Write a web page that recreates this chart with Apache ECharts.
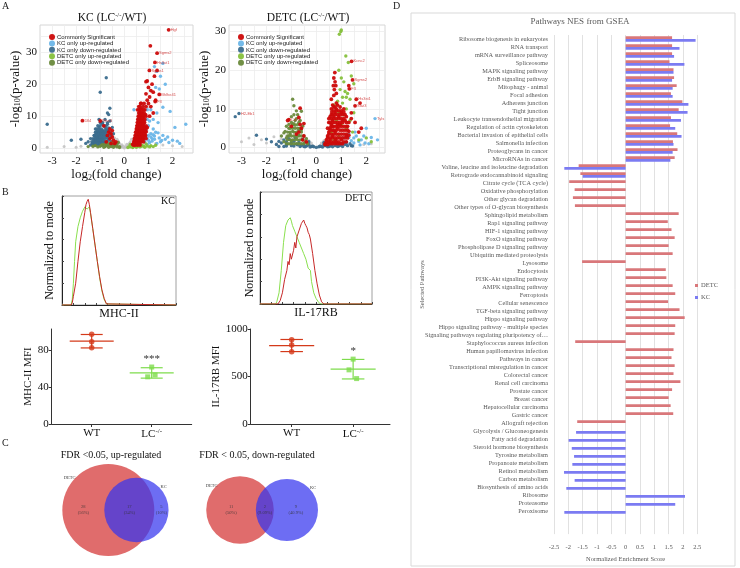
<!DOCTYPE html>
<html><head><meta charset="utf-8">
<script src="https://cdn.jsdelivr.net/npm/echarts@6/dist/echarts.min.js"></script>
<style>html,body{margin:0;padding:0;background:#fff}#c{width:740px;height:568px}</style>
</head><body><div id="c"></div>
<script>
// ---------------- DATA ----------------
const volcanoGroups = ['Commonly Significant','KC only up-regulated','KC only down-regulated','DETC only up-regulated','DETC only down-regulated'];
const volcanoXTicks = [-3,-2.5,-2,-1.5,-1,-0.5,0,0.5,1,1.5,2,2.5];
const volcanoXLabels = [-3,-2,-1,0,1,2];
const kcYTicks = [0,5,10,15,20,25,30,35];
const detcYTicks = [0,5,10,15,20,25,30];
const volcanoYLabels = [0,10,20,30];

// KC (LC-/-/WT) volcano
const kcCommon = [[0.35,1.2],[0.4,1.8],[0.42,2.5],[0.45,3.2],[0.48,4],[0.5,5],[0.52,6],[0.55,7],[0.58,8],[0.6,9],[0.62,10],[0.65,11],[0.55,12],[0.6,13],[0.7,14],
 [0.5,2],[0.55,3],[0.6,4],[0.65,5],[0.7,6],[0.75,7],[0.8,8],[0.72,9],[0.8,10],[0.75,11],[0.85,12],[0.9,13],[0.65,2.2],[0.75,3],[0.85,4],[0.9,5.2],[0.95,6.5],
 [0.7,4.5],[0.6,6.5],[0.68,8.5],[0.78,9.5],[0.88,10.5],[0.58,5.5],[0.66,7.5],[0.7,12.5],[0.62,3.5],[0.53,4.5],[0.47,2.8],[0.83,6],[0.73,10.5],[0.64,12],
 [0.95,15],[1.0,14],[1.05,16],[0.9,17],[1.1,18],[1.2,17.5],[1.0,19],[1.15,20],[0.95,21],[1.3,15],[1.45,16.8],[1.28,14.6],[1.1,13],
 [1.84,37],[1.08,32],[1.36,29.7],[1.27,26.8],[1.04,24.3],[1.36,24.3],[0.9,20.8],[1.25,22.5],[1.2,11],[1.05,10],
 [-0.4,1.5],[-0.45,2.5],[-0.5,3.5],[-0.55,4.5],[-0.6,3],[-0.65,5],[-0.5,5.5],[-0.7,4],[-0.75,2],[-0.35,2],[-0.6,6],[-0.85,7],[-1.0,8.5],[-1.74,8.6],[-0.55,1.5]];
const kcCommonDense = [[0.38,1],[0.45,1],[0.55,1],[0.65,1],[0.4,2],[0.48,2],[0.58,2],[0.7,2],[0.8,2],[0.42,3],[0.5,3],[0.6,3],[0.7,3],[0.8,3],[0.9,3],
 [0.45,4],[0.55,4],[0.65,4],[0.75,4],[0.88,4],[0.47,5],[0.57,5],[0.67,5],[0.78,5],[0.88,5],[0.5,6],[0.58,6],[0.68,6],[0.78,6],[0.9,6],
 [0.52,7],[0.6,7],[0.7,7],[0.8,7],[0.9,7],[0.54,8],[0.62,8],[0.72,8],[0.84,8],[0.56,9],[0.65,9],[0.75,9],[0.85,9],[0.58,10],[0.68,10],[0.78,10],[0.9,10],
 [0.6,11],[0.7,11],[0.82,11],[0.62,12],[0.72,12],[0.8,12],[0.65,13],[0.78,13],[0.68,14],[0.82,14],
 [0.43,1.5],[0.52,1.5],[0.62,1.5],[0.46,2.5],[0.56,2.5],[0.66,2.5],[0.76,2.5],[0.48,3.5],[0.58,3.5],[0.68,3.5],[0.78,3.5],[0.52,4.5],[0.62,4.5],[0.72,4.5],
 [0.82,4.5],[0.54,5.5],[0.64,5.5],[0.74,5.5],[0.84,5.5],[0.55,6.5],[0.65,6.5],[0.75,6.5],[0.85,6.5],[0.58,7.5],[0.68,7.5],[0.78,7.5],[0.6,8.5],[0.7,8.5],
 [0.8,8.5],[0.63,9.5],[0.73,9.5],[0.66,10.5],[0.76,10.5]];
const kcKcUp = [[2.55,7.5],[2.1,6.5],[1.9,11.5],[1.6,26.5],[1.35,24],[1.25,25.5],[1.5,22.5],[1.7,20],[1.45,18.5],[1.3,19],[1.1,12],[1.2,9],[1.4,8],[1.0,7],[0.9,5.5],
 [1.3,5],[1.6,4],[1.8,3.5],[1.15,3],[1.0,2.5],[0.85,2],[1.5,2],[2.0,2.5],[2.3,1.5],[1.2,6],[1.05,8.5],[0.95,12],[1.6,12.8],[0.4,12],[0.95,9],[1.35,11],[1.1,4.5],[1.25,3.8],
 [0.95,1.2],[1.05,1.8],[1.15,2.2],[1.25,2.8],[1.35,1.5],[1.45,3.2],[1.55,2.4],[1.1,3.5],[1.2,4.2],[1.4,4.8],[1.0,4],[0.95,3.2],[1.7,2.8],[1.85,1.8],[2.2,2.2]];
const kcKcDown = [[-1.3,1.5],[-1.2,2.5],[-1.1,3.5],[-1.0,4.5],[-0.9,5.5],[-0.8,6.5],[-0.7,7.5],[-1.15,5],[-0.95,3],[-0.85,2],[-0.75,4],[-0.65,2.5],[-1.05,6.5],[-0.9,7.5],
 [-0.6,8.5],[-0.8,9],[-1.25,4],[-1.4,3],[-1.5,2],[-1.6,1.5],[-0.55,3.5],[-0.5,6.5],[-0.45,4.5],[-0.7,5.5],[-1.0,2],[-0.75,22],[-1.0,17.5],[-0.6,12.5],[-0.65,10.5],
 [-0.7,11],[-3.2,7.5],[-1.05,9],[-2.2,2.5],[-1.8,2.8],[-1.2,6],[-0.85,4.8],[-1.1,2.2],[-0.95,8.2]];
const kcKcDownDense = [[-1.4,1],[-1.3,1],[-1.2,1],[-1.1,1],[-1.0,1],[-0.9,1],[-0.5,1],[-1.35,2],[-1.25,2],[-1.15,2],[-1.05,2],[-0.95,2],[-0.75,2],[-0.55,2],
 [-1.3,3],[-1.2,3],[-1.1,3],[-1.0,3],[-0.9,3],[-0.8,3],[-0.7,3],[-0.6,3.2],[-1.25,4],[-1.15,4],[-1.05,4],[-0.95,4],[-0.85,4],[-0.65,4],[-0.55,4.2],
 [-1.2,5],[-1.1,5],[-1.0,5],[-0.9,5],[-0.8,5],[-0.6,5],[-1.15,6],[-1.05,6],[-0.95,6],[-0.75,6],[-0.65,6.3],[-1.1,7],[-1.0,7],[-0.85,7],[-0.75,7],
 [-1.0,8],[-0.9,8],[-0.7,8],[-1.32,1.5],[-1.22,1.5],[-1.12,1.5],[-1.02,1.5],[-0.92,1.5],[-0.82,1.5],[-1.27,2.5],[-1.17,2.5],[-1.07,2.5],[-0.97,2.5],[-0.87,2.5],
 [-1.22,3.5],[-1.12,3.5],[-1.02,3.5],[-0.92,3.5],[-0.82,3.5],[-0.72,3.5],[-1.17,4.5],[-1.07,4.5],[-0.97,4.5],[-0.87,4.5],[-0.77,4.5],[-1.12,5.5],[-1.02,5.5],
 [-0.92,5.5],[-0.82,5.5],[-0.72,5.5]];
const kcDetcUp = [[0.2,0.5],[0.3,1],[0.4,0.8],[0.5,1.2],[0.6,1.5],[0.7,1],[0.8,0.6],[0.35,0.4],[0.9,1.3],[1.1,0.8],[0.25,1.2],[0.55,0.5],
 [0.15,0.2],[0.25,0.4],[0.35,0.2],[0.45,0.5],[0.55,0.9],[0.65,0.4],[0.75,0.8],[0.85,0.3],[0.95,0.7],[1.05,0.4],[1.2,0.5],[1.3,0.9],[0.3,0.7],[0.5,0.3],[0.7,0.6]];
const kcDetcDown = [[-0.2,0.5],[-0.3,1],[-0.4,0.7],[-0.5,1.2],[-0.6,0.8],[-0.7,1],[-0.8,0.5],[-0.9,1.1],[-1.0,0.6],[-0.35,1.5],[-0.25,1.8],[-1.2,0.8],[-1.5,0.5],
 [-0.2,0.2],[-0.3,0.4],[-0.45,0.3],[-0.55,0.5],[-0.65,0.3],[-0.75,0.8],[-0.85,0.3],[-0.95,0.9],[-1.1,0.4],[-1.3,0.6],[-0.4,1.2],[-0.5,1.8],[-0.6,1.4],[-0.7,1.6],[-0.8,1.2]];
const kcNS = [[0,0.1],[0.1,0.3],[-0.1,0.3],[0.15,0.8],[-0.15,0.8],[0.2,1.5],[-0.2,1.5],[0.25,2],[-0.25,2.2],[0.3,2.8],[-0.3,2.8],[0.05,0.5],[-0.05,0.6],[0.1,1.2],
 [-0.1,1.1],[1.3,1.5],[1.6,1],[2.0,0.8],[-1.3,0.4],[-1.8,0.6],[-2.5,0.5],[-3.2,0.3],[-2.0,0.3],[2.4,0.5],[-0.4,3.2],[0.4,3.2]];
const kcGeneLabels = [[1.84,37,'Hgf'],[1.36,29.7,'Sgms2'],[1.27,26.8,'Hs3st1'],[1.04,24.3,'Sgms1'],[1.45,16.8,'Bhlhe41'],[1.28,14.6,'F3'],[0.6,13,'Stat3'],[-1.74,8.6,'Dll4'],[-1.0,8.5,'Mns3']];

// DETC (LC-/-/WT) volcano
const detcCommon = [[0.35,1],[0.4,2],[0.45,3],[0.5,4],[0.55,5],[0.6,6],[0.65,7],[0.7,8],[0.75,9],[0.8,10],[0.7,10.5],[0.6,10],[0.55,2],[0.65,3],[0.75,4],[0.85,5],
 [0.95,6],[1.05,7],[0.9,8],[1.0,9],[1.1,10],[0.85,11],[0.7,1.5],[0.85,2.5],[1.0,3.5],[1.15,4.5],[1.25,5.5],[1.3,6.5],[1.2,8],[0.65,5.5],[0.75,6.5],[0.8,7.5],[0.6,8.5],
 [0.95,4.5],[1.1,5.5],[1.0,2],[1.2,3],[0.5,6.5],[0.55,8],[0.9,9.5],[0.7,4.5],[0.85,6],[1.05,8.5],[0.45,5],[0.5,7.5],[0.62,9.2],[0.9,3.5],[1.15,7],[0.78,2],[1.3,4.2],
 [0.74,19.4],[0.7,18],[0.78,16],[0.72,15],[0.8,14],[1.41,22.3],[1.45,17.5],[1.3,16],[1.32,15.2],[1.6,12.5],[1.75,11.5],[1.55,10.8],[1.4,9],[1.55,6.5],[1.8,5],[1.7,4],[1.4,7.5],
 [-1.1,7.2],[-1.0,5.5],[-0.65,6],[-0.6,5],[-0.7,4],[-0.5,3],[-0.55,2],[-0.4,1.5],[-0.8,3.5],[-0.65,10.2],[-0.7,7.8],[-1.15,7],[-0.5,6.2]];
const detcCommonDense = [[0.35,0.8],[0.45,0.8],[0.55,1],[0.65,1],[0.75,1],[0.85,1],[0.95,1],[1.05,1],[0.4,1.5],[0.5,1.5],[0.6,1.5],[0.8,1.5],[0.9,1.5],[1.1,1.5],[1.2,1.5],
 [0.45,2.5],[0.55,2.5],[0.65,2.5],[0.75,2.5],[0.95,2.5],[1.05,2.5],[1.15,2.5],[1.25,2.5],[0.5,3.5],[0.6,3.5],[0.7,3.5],[0.8,3.5],[1.1,3.5],[1.2,3.5],[1.3,3.2],
 [0.55,4.5],[0.65,4.5],[0.8,4.5],[1.05,4.5],[1.25,4.5],[0.6,5.5],[0.7,5.5],[0.8,5.5],[0.9,5.5],[1.0,5.5],[1.2,5.5],[0.55,6.5],[0.65,6.5],[0.85,6.5],[0.95,6.5],
 [1.05,6.5],[1.2,6.5],[0.6,7.5],[0.7,7.5],[0.9,7.5],[1.0,7.5],[1.1,7.5],[0.65,8.5],[0.75,8.5],[0.85,8.5],[0.95,8.5],[1.15,8.5],[0.7,9.5],[0.8,9.5],[1.0,9.5],
 [1.1,9.2],[0.75,10.5],[0.95,10.5],[0.65,11],[0.8,11.5],[0.6,12.5],[0.7,13.5],[0.75,17],[0.68,16]];
const detcKcUp = [[2.35,7.5],[2.0,5],[1.9,3],[1.55,4],[1.3,3.5],[1.1,2.5],[0.8,1.5],[1.5,1.2],[1.7,1.6],[2.45,2],[1.2,1],[1.0,0.8],[2.1,1],[0.6,0.9],
 [1.5,2.5],[1.6,3],[1.8,2],[1.95,1.2],[1.4,1.8],[1.75,0.7],[1.3,2.6],[2.2,2.6]];
const detcKcDown = [[-3.1,8.8],[-3.25,8],[-2.4,3.2],[-1.5,1.6],[-1.2,0.8],[-1.0,1.2],[-0.8,0.9],[-0.6,0.6],[-0.4,0.4],[-0.2,0.3],[0.2,0.3],[0.4,0.5],[0.6,0.7],
 [0.8,0.9],[1.0,1.1],[1.2,1.4],[-2.0,2.2],[-1.8,1.5],[-0.1,0.2],[0.1,0.2],[-0.3,0.8],[0.3,0.8],[-0.5,0.3],[0.5,0.3],[-0.9,0.4],[0.9,0.4],[-1.3,0.3],[1.4,0.5],
 [-1.6,0.8],[-1.4,1.2],[-1.3,2],[-1.2,1.5],[-1.1,2.3],[-1.0,0.5],[-0.9,1.6],[-0.85,2.5],[-0.7,1.3],[-0.65,0.3],[-0.5,1.0],[-0.45,0.2],[-0.35,0.6],[-0.25,0.15],
 [-0.15,0.35],[0,0.05],[0.15,0.35],[0.25,0.15],[0.35,0.5],[0.45,0.2],[0.55,0.4],[0.65,0.2],[0.75,0.5],[0.85,0.3],[0.95,0.6],[1.05,0.3],[1.15,0.8],[1.25,0.5],
 [1.35,1],[1.45,0.4],[-1.5,0.3],[-0.55,2.2],[-0.3,1.5],[0.3,1.3],[-0.75,0.7],[-1.2,0.4]];
const detcDetcUp = [[0.98,30],[0.92,29.3],[1.0,30.4],[1.18,23.7],[1.28,22],[0.9,20],[1.0,18],[1.1,17],[0.95,15],[1.15,14.5],[1.25,14],[1.05,13],[1.2,13],[0.85,12],
 [1.35,12.5],[0.7,11],[1.05,11.5],[1.2,10],[1.5,9],[0.9,9],[1.1,8.5],[1.35,7],[0.8,7],[1.0,6],[1.2,5],[1.45,4],[0.6,4],[0.7,2],[0.5,1.5],[0.4,1],[0.9,3],[1.7,2],
 [2.0,2.5],[2.2,1.5],[1.4,18.5],[1.5,16.5]];
const detcDetcDown = [[-0.95,12.5],[-0.9,10.8],[-0.8,9.5],[-0.6,9.4],[-1.0,8],[-0.85,7],[-0.7,6.5],[-0.95,6],[-1.1,5],[-0.75,5],[-0.6,4],[-0.9,4],[-1.05,3.5],[-0.5,3],
 [-0.8,2.5],[-1.2,2.5],[-0.65,2],[-0.45,1.5],[-1.0,1.8],[-1.3,1.5],[-0.35,1],[-1.4,3],[-0.55,5.5],[-1.25,4.2],[-0.7,3.2],[-0.85,5.8],[-0.4,2.3],[-1.15,3],
 [-1.2,1],[-1.1,1],[-1.0,1],[-0.9,1],[-0.8,1],[-0.7,1],[-0.6,1],[-0.5,1],[-1.15,2],[-1.05,2],[-0.95,2],[-0.85,2],[-0.75,2],[-0.55,2],
 [-1.1,3],[-1.0,3],[-0.9,3],[-0.8,3],[-0.7,3],[-0.6,3],[-1.15,4],[-1.05,4],[-0.95,4.2],[-0.8,4],[-0.7,4.5],[-0.6,4.6],[-1.05,5],[-0.95,5],[-0.85,5],[-0.65,5],
 [-1.0,6.5],[-0.9,6.2],[-0.75,6],[-0.65,7],[-0.8,7.5],[-0.9,8.5],[-0.75,8.5],[-1.1,6],[-1.2,5.5],[-1.3,3.8]];
const detcNS = [[-3.0,1.5],[-2.7,2.5],[-2.2,2],[-2.0,1.2],[-1.7,2.8],[-1.6,1],[-1.4,2.2],[-1.2,3],[-2.5,0.8],[1.9,0.8],[2.2,1],[-0.2,1.2],[0.2,1.2],[-0.3,1.8],[0.3,1.8],
 [-0.4,2.4],[0.4,2.2],[-0.15,0.6],[0.15,0.6]];
const detcGeneLabels = [[1.41,22.3,'Kcnc2'],[1.45,17.5,'Sgms2'],[1.32,15.2,'F3'],[1.6,12.5,'Hs3st1'],[1.55,10.8,'Stat3'],[-1.1,7.2,'Cd74'],[-3.1,8.8,'H2-Eb1'],[2.35,7.5,'Tyls']];

// B: flow histograms (x = fluorescence channel, y = % of mode)
const kcHistWT = [[0,0],[8,0],[9,2],[10,8],[12,20],[14,40],[16,58],[18,72],[20,85],[21,92],[22,95],[23,97],[24,92],[25,85],[27,70],[29,55],[31,40],[33,26],[35,14],[37,6],[39,1],[40,0],[100,0]];
const kcHistLC = [[0,0],[8,0],[9,5],[10,20],[11,40],[12,58],[14,72],[16,80],[18,86],[20,90],[21,91],[22,88],[24,90],[25,84],[27,70],[29,55],[31,40],[33,25],[35,13],[37,5],[39,1],[40,0],[100,0]];
const detcHistWT = [[0,0],[16,0],[18,3],[20,10],[22,22],[24,30],[25,38],[26,35],[27,45],[28,40],[30,48],[31,55],[32,50],[33,60],[35,66],[37,72],[39,75],[40,72],[41,70],[42,68],[43,64],[44,62],[45,58],[47,45],[49,30],[51,18],[53,8],[55,2],[57,0],[100,0]];
const detcHistLC = [[0,0],[14,0],[15,2],[17,10],[19,30],[21,55],[23,70],[25,75],[27,77],[28,74],[29,70],[31,65],[33,60],[35,55],[37,50],[39,45],[41,40],[43,32],[45,30],[46,20],[48,10],[50,5],[52,2],[54,0],[100,0]];

// B: MFI dot plots
const groupNames = ['WT','LC-/-'];
const mhcWT = [97, 89, 82.5];
const mhcLC = [61.6, 51, 53];
const il17WT = [887, 831, 760];
const il17LC = [683, 570, 478];
const sigLabels = ['***', '*'];
const mhcTicks = [0, 40, 80];
const il17Ticks = [0, 500, 1000];

// C: Venn counts [DETC only, both, KC only]
const vennSets = ['DETC', 'KC'];
const vennUp = [28, 17, 5];
const vennDown = [11, 2, 9];

// D: GSEA NES
const pathways = ['Ribosome biogenesis in eukaryotes','RNA transport','mRNA surveillance pathway','Spliceosome','MAPK signaling pathway','ErbB signaling pathway',
 'Mitophagy - animal','Focal adhesion','Adherens junction','Tight junction','Leukocyte transendothelial migration','Regulation of actin cytoskeleton',
 'Bacterial invasion of epithelial cells','Salmonella infection','Proteoglycans in cancer','MicroRNAs in cancer','Valine, leucine and isoleucine degradation',
 'Retrograde endocannabinoid signaling','Citrate cycle (TCA cycle)','Oxidative phosphorylation','Other glycan degradation','Other types of O-glycan biosynthesis',
 'Sphingolipid metabolism','Rap1 signaling pathway','HIF-1 signaling pathway','FoxO signaling pathway','Phospholipase D signaling pathway','Ubiquitin mediated proteolysis',
 'Lysosome','Endocytosis','PI3K-Akt signaling pathway','AMPK signaling pathway','Ferroptosis','Cellular senescence','TGF-beta signaling pathway','Hippo signaling pathway',
 'Hippo signaling pathway - multiple species','Signaling pathways regulating pluripotency of…','Staphylococcus aureus infection','Human papillomavirus infection',
 'Pathways in cancer','Transcriptional misregulation in cancer','Colorectal cancer','Renal cell carcinoma','Prostate cancer','Breast cancer','Hepatocellular carcinoma',
 'Gastric cancer','Allograft rejection','Glycolysis / Gluconeogenesis','Fatty acid degradation','Steroid hormone biosynthesis','Tyrosine metabolism','Propanoate metabolism',
 'Retinol metabolism','Carbon metabolism','Biosynthesis of amino acids','Ribosome','Proteasome','Peroxisome'];
const detcNES = [1.62,1.62,1.62,1.53,1.67,1.69,1.78,1.58,1.98,1.85,1.58,1.55,1.80,1.65,1.81,1.71,-1.64,-1.58,-1.97,-1.78,-1.84,-1.77,
 1.85,1.47,1.60,1.71,1.50,1.64,-1.52,1.40,1.42,1.64,1.73,1.48,1.88,2.06,1.73,1.71,-1.76,1.67,1.60,1.71,1.67,1.91,1.62,1.50,1.57,1.66,-1.69,
 null,null,null,null,null,null,null,null,null,null,null];
const kcNES = [2.44,1.88,1.69,2.05,1.67,1.62,1.64,1.64,2.19,2.16,1.93,1.73,1.95,1.67,1.64,1.56,-2.14,-1.50,
 null,null,null,null,null,null,null,null,null,null,null,null,null,null,null,null,null,null,null,null,null,null,null,null,null,null,null,null,null,null,null,
 -1.73,-1.99,-1.88,-1.80,-1.86,-2.15,-1.78,-2.07,2.07,1.73,-2.14];

// ---------------- STYLE / HELPERS ----------------
const SERIF = '"Liberation Serif","Times New Roman",serif';
const SANS = '"Liberation Sans",Arial,sans-serif';
const volcColors = ['#cc0a0a','#6cb6e8','#3b6d8e','#86c03c','#6a8a3c'];
const dotJitter = [0, -0.2, 0.17];
const subRich = {s:{fontSize:8, padding:[6,0,0,0], fontFamily:SERIF, color:'#111'}, p:{fontSize:7, padding:[0,0,6,0], fontFamily:SERIF, color:'#111'}};

function mean(a){return a.reduce((s,v)=>s+v,0)/a.length;}
function sd(a){const m=mean(a);return Math.sqrt(a.reduce((s,v)=>s+(v-m)*(v-m),0)/(a.length-1));}
function overlapArea(r1,r2,d){
  if (d >= r1+r2) return 0;
  if (d <= Math.abs(r1-r2)) return Math.PI*Math.min(r1,r2)**2;
  const a1 = r1*r1*Math.acos((d*d+r1*r1-r2*r2)/(2*d*r1));
  const a2 = r2*r2*Math.acos((d*d+r2*r2-r1*r1)/(2*d*r2));
  const k = 0.5*Math.sqrt((-d+r1+r2)*(d+r1-r2)*(d-r1+r2)*(d+r1+r2));
  return a1+a2-k;
}
function vennGeom(counts){
  const [a,b,c]=counts; const n1=a+b, n2=b+c;
  const r1=Math.sqrt(n1/Math.PI), r2=Math.sqrt(n2/Math.PI);
  let lo=Math.abs(r1-r2)+1e-9, hi=r1+r2;
  for(let i=0;i<80;i++){const m=(lo+hi)/2; if(overlapArea(r1,r2,m)>b) lo=m; else hi=m;}
  const d=(lo+hi)/2;
  const tot=a+b+c;
  const pct=v=>Number((v/tot*100).toPrecision(3))+'%';
  const labels=[
    [((-r1)+(d-r2))/2, 0, a+'\n('+pct(a)+')'],
    [((d-r2)+r1)/2, 0, b+'\n('+pct(b)+')'],
    [(r1+(d+r2))/2, 0, c+'\n('+pct(c)+')']
  ];
  return {circles:[[0,0,r1,0],[d,0,r2,1]], labels};
}
const vUp = vennGeom(vennUp), vDown = vennGeom(vennDown);
const vennFill = ['#e06c6c','rgba(52,52,238,0.72)'];
function vennRender(params, api){
  const c = api.coord([api.value(0), api.value(1)]);
  const r = api.size([api.value(2), 0])[0];
  const idx = api.value(3);
  const ang = idx === 0 ? 140 : 40;
  const rad = ang*Math.PI/180;
  return {type:'group', children:[
    {type:'circle', shape:{cx:c[0], cy:c[1], r:r}, style:{fill:vennFill[idx]}},
    {type:'text', style:{text:vennSets[idx], x:c[0]+Math.cos(rad)*r*1.1, y:c[1]-Math.sin(rad)*r*1.1, fontSize:4.5, fontFamily:SERIF, fill:'#444', align:'center', verticalAlign:'middle'}}
  ]};
}

// ---------------- OPTION ----------------
function volcX(gi, max){
  return {gridIndex:gi, type:'value', min:-3.5, max:max,
    axisLine:{show:false}, axisTick:{show:false, customValues:volcanoXTicks},
    axisLabel:{customValues:volcanoXLabels, fontFamily:SERIF, fontSize:11, color:'#111', margin:3},
    splitLine:{show:true, lineStyle:{color:'#ececec', width:0.8}},
    name:'log{s|2}(fold change)', nameLocation:'middle', nameGap:15,
    nameTextStyle:{fontFamily:SERIF, fontSize:13, color:'#111', rich:subRich}};
}
function volcY(gi, min, max, ticks, gap){
  return {gridIndex:gi, type:'value', min:min, max:max,
    axisLine:{show:false}, axisTick:{show:false, customValues:ticks},
    axisLabel:{customValues:volcanoYLabels, fontFamily:SERIF, fontSize:11, color:'#111', margin:3},
    splitLine:{show:true, lineStyle:{color:'#ececec', width:0.8}},
    name:'-log{s|10}(p-value)', nameLocation:'middle', nameGap:gap,
    nameTextStyle:{fontFamily:SERIF, fontSize:13, color:'#111', rich:subRich}};
}
function volcSeries(axis, sets, ns, genes){
  const out = [];
  out.push({type:'scatter', name:'NS', xAxisIndex:axis, yAxisIndex:axis, data:ns, symbolSize:3, itemStyle:{color:'#bdbdbd'}, silent:true, z:2});
  const order = [1,2,3,4,0];
  order.forEach(i=>{
    out.push({type:'scatter', name:volcanoGroups[i], xAxisIndex:axis, yAxisIndex:axis, data:sets[i], symbolSize:i===0?3.8:3.4,
      itemStyle:{color:volcColors[i], opacity:0.95}, z:3, large:false});
  });
  out.push({type:'scatter', name:'genes', xAxisIndex:axis, yAxisIndex:axis, data:genes, symbolSize:0, silent:true, z:5,
    label:{show:true, position:'right', distance:2, formatter:p=>p.value[2], fontSize:4, fontFamily:SANS, color:'#c22'}});
  return out;
}
function histAxes(gi, name, gap){
  return [{gridIndex:gi, type:'value', min:0, max:100, interval:10,
      axisLine:{lineStyle:{color:'#222', width:1}}, axisTick:{inside:true, length:2, lineStyle:{color:'#444'}},
      axisLabel:{show:false}, splitLine:{show:false},
      name:name, nameLocation:'middle', nameGap:3, nameTextStyle:{fontFamily:SERIF, fontSize:12, color:'#111'}},
    {gridIndex:gi, type:'value', min:0, max:100, interval:20,
      axisLine:{show:true, lineStyle:{color:'#222', width:1}}, axisTick:{show:true, inside:true, length:2, lineStyle:{color:'#444'}},
      axisLabel:{show:false}, splitLine:{show:false},
      name:'Normalized to mode', nameLocation:'middle', nameGap:gap, nameTextStyle:{fontFamily:SERIF, fontSize:12, color:'#111'}}];
}
function dotAxes(gi, xmax, ymax, ticks, name, gap){
  return [{gridIndex:gi, type:'value', min:0, max:xmax,
      axisLine:{lineStyle:{color:'#333', width:1}}, axisTick:{customValues:[2,5], length:3, lineStyle:{color:'#333'}},
      axisLabel:{customValues:[2,5], formatter:v=> v===2 ? groupNames[0] : 'LC{p|-/-}', fontFamily:SERIF, fontSize:11, color:'#111', margin:4, rich:subRich},
      splitLine:{show:false}},
    {gridIndex:gi, type:'value', min:0, max:ymax,
      axisLine:{show:true, lineStyle:{color:'#333', width:1}}, axisTick:{show:true, customValues:ticks, length:3, lineStyle:{color:'#333'}},
      axisLabel:{customValues:ticks, formatter:v=>String(v), fontFamily:SERIF, fontSize:11, color:'#111', margin:3},
      splitLine:{show:false},
      name:name, nameLocation:'middle', nameGap:gap, nameTextStyle:{fontFamily:SERIF, fontSize:11, color:'#111'}}];
}
function dotSeries(axis, wt, lc, sig){
  const cols = ['#d43a1a','#7edc4c'];
  const stats = [[2, mean(wt), sd(wt), 0], [5, mean(lc), sd(lc), 1]];
  return [
    {type:'custom', xAxisIndex:axis, yAxisIndex:axis, data:stats, silent:true, z:3,
      renderItem:(params, api)=>{
        const x=api.value(0), m=api.value(1), s=api.value(2), g=api.value(3);
        const col=cols[g];
        const L=api.coord([x-1.1,m]), R=api.coord([x+1.1,m]);
        const T=api.coord([x,m+s]), B=api.coord([x,m-s]);
        const TL=api.coord([x-0.55,m+s]), TR=api.coord([x+0.55,m+s]);
        const BL=api.coord([x-0.55,m-s]), BR=api.coord([x+0.55,m-s]);
        const st={stroke:col, lineWidth:1.2};
        const ch=[
          {type:'line', shape:{x1:L[0],y1:L[1],x2:R[0],y2:R[1]}, style:st},
          {type:'line', shape:{x1:T[0],y1:T[1],x2:B[0],y2:B[1]}, style:st},
          {type:'line', shape:{x1:TL[0],y1:TL[1],x2:TR[0],y2:TR[1]}, style:st},
          {type:'line', shape:{x1:BL[0],y1:BL[1],x2:BR[0],y2:BR[1]}, style:st}];
        if (g===1) ch.push({type:'text', style:{text:sig, x:T[0], y:T[1]-3, align:'center', verticalAlign:'bottom', fontSize:11, fontFamily:SERIF, fill:'#333'}});
        return {type:'group', children:ch};
      }},
    {type:'scatter', xAxisIndex:axis, yAxisIndex:axis, data:wt.map(v=>[2, v]), symbol:'circle', symbolSize:5.5, itemStyle:{color:cols[0]}, z:4, silent:true},
    {type:'scatter', xAxisIndex:axis, yAxisIndex:axis, data:lc.map((v,i)=>[5+dotJitter[i], v]), symbol:'rect', symbolSize:5, itemStyle:{color:cols[1]}, z:4, silent:true}
  ];
}
function vennAxes(gi, xmin, xmax, ymin, ymax){
  return [{gridIndex:gi, type:'value', min:xmin, max:xmax, show:false},{gridIndex:gi, type:'value', min:ymin, max:ymax, show:false}];
}
function vennSeries(axis, g){
  return [
    {type:'custom', name:'venn'+axis, xAxisIndex:axis, yAxisIndex:axis, data:g.circles, renderItem:vennRender, silent:true, z:2},
    {type:'scatter', name:'vennlab'+axis, xAxisIndex:axis, yAxisIndex:axis, data:g.labels, symbolSize:0, silent:true, z:4,
      label:{show:true, position:'inside', formatter:p=>p.value[2], fontSize:4.5, lineHeight:6, fontFamily:SERIF, color:'#333'}}
  ];
}

const hk = histAxes(2,'MHC-II',6), hd = histAxes(3,'IL-17RB',4);
const dm = dotAxes(4,7,102.7,mhcTicks,'MHC-II MFI',16), di = dotAxes(5,6.8,1000,il17Ticks,'IL-17RB MFI',25);
const vu = vennAxes(6,-4.8,5.9,-4.115,4.115), vd = vennAxes(7,-2.41,5.42,-2.41,2.41);

const option = {
  animation:false,
  backgroundColor:'#fff',
  grid:[
    {left:40, top:25, width:153, height:128, show:true, borderColor:'#d6d6d6', borderWidth:1, backgroundColor:'#fff'},
    {left:229, top:25, width:156, height:128, show:true, borderColor:'#d6d6d6', borderWidth:1, backgroundColor:'#fff'},
    {left:62, top:196, width:114, height:109, show:true, borderColor:'#888', borderWidth:0.8},
    {left:260, top:192, width:112, height:112, show:true, borderColor:'#888', borderWidth:0.8},
    {left:51.7, top:329, width:140, height:95},
    {left:250.7, top:329, width:139.3, height:95},
    {left:50, top:460, width:130, height:100},
    {left:200, top:470, width:130, height:80},
    {left:554, top:35, width:143.3, height:500},
    {left:554, top:35, width:143.3, height:480}
  ],
  xAxis:[
    volcX(0, 2.85), volcX(1, 2.75), hk[0], hd[0], dm[0], di[0], vu[0], vd[0],
    {gridIndex:8, type:'value', min:-2.5, max:2.5, interval:0.5,
      axisLine:{show:false}, axisTick:{show:false},
      axisLabel:{fontFamily:SERIF, fontSize:6.5, color:'#595959', margin:10},
      splitLine:{show:true, lineStyle:{color:'#d9d9d9', width:0.8}},
      name:'Normalized Enrichment Score', nameLocation:'middle', nameGap:18, nameTextStyle:{fontFamily:SERIF, fontSize:6.5, color:'#595959'}},
    {gridIndex:9, type:'value', min:-2.5, max:2.5, interval:0.5, show:false, splitLine:{show:false}}
  ],
  yAxis:[
    volcY(0, -1.5, 38.5, kcYTicks, 16.5), volcY(1, -1.4, 31.7, detcYTicks, 13.5), hk[1], hd[1], dm[1], di[1], vu[1], vd[1],
    {gridIndex:8, type:'value', min:0, max:1, axisLine:{show:false}, axisTick:{show:false}, axisLabel:{show:false}, splitLine:{show:false},
      name:'Selected Pathways', nameLocation:'middle', nameGap:128, nameTextStyle:{fontFamily:SERIF, fontSize:6.5, color:'#595959'}},
    {gridIndex:9, type:'category', data:pathways, inverse:true,
      axisLine:{show:false}, axisTick:{show:false},
      axisLabel:{interval:0, fontFamily:SERIF, fontSize:6.3, color:'#595959', margin:6}}
  ],
  legend:[
    {data:volcanoGroups, left:44, top:29, orient:'vertical', icon:'circle', itemWidth:6, itemHeight:6, itemGap:0.3, selectedMode:false,
      textStyle:{fontSize:6, lineHeight:6.1, fontFamily:SANS, color:'#222', padding:[0,0,0,-3]}},
    {data:volcanoGroups, left:233, top:29, orient:'vertical', icon:'circle', itemWidth:6, itemHeight:6, itemGap:0.3, selectedMode:false,
      textStyle:{fontSize:6, lineHeight:6.1, fontFamily:SANS, color:'#222', padding:[0,0,0,-3]}},
    {data:['DETC','KC'], left:690, top:277, orient:'vertical', icon:'rect', itemWidth:3, itemHeight:3, itemGap:5, selectedMode:false,
      textStyle:{fontSize:6.5, fontFamily:SERIF, color:'#595959', padding:[0,0,0,-2]}}
  ],
  graphic:[
    {type:'text', left:2, top:1, style:{text:'A', fontSize:10, fontFamily:SERIF, fill:'#222'}},
    {type:'text', left:2, top:187, style:{text:'B', fontSize:10, fontFamily:SERIF, fill:'#222'}},
    {type:'text', left:2, top:438, style:{text:'C', fontSize:10, fontFamily:SERIF, fill:'#222'}},
    {type:'text', left:393, top:1, style:{text:'D', fontSize:10, fontFamily:SERIF, fill:'#222'}},
    {type:'text', x:112, y:18, style:{text:'KC (LC{p|-/-}/WT)', align:'center', verticalAlign:'middle', fontSize:11.5, fontFamily:SERIF, fill:'#111',
      rich:{p:{fontSize:6.5, padding:[0,0,6,0], fontFamily:SERIF, fill:'#111'}}}},
    {type:'text', x:308, y:18, style:{text:'DETC (LC{p|-/-}/WT)', align:'center', verticalAlign:'middle', fontSize:11.5, fontFamily:SERIF, fill:'#111',
      rich:{p:{fontSize:6.5, padding:[0,0,6,0], fontFamily:SERIF, fill:'#111'}}}},
    {type:'text', x:168, y:201, style:{text:'KC', align:'center', verticalAlign:'middle', fontSize:10, fontFamily:SERIF, fill:'#111'}},
    {type:'text', x:358, y:198, style:{text:'DETC', align:'center', verticalAlign:'middle', fontSize:10, fontFamily:SERIF, fill:'#111'}},
    {type:'text', x:111, y:455, style:{text:'FDR <0.05, up-regulated', align:'center', verticalAlign:'middle', fontSize:10, fontFamily:SERIF, fill:'#111'}},
    {type:'text', x:257, y:455, style:{text:'FDR < 0.05, down-regulated', align:'center', verticalAlign:'middle', fontSize:10, fontFamily:SERIF, fill:'#111'}},
    {type:'rect', shape:{x:411, y:13, width:324, height:553}, style:{fill:'none', stroke:'#d9d9d9', lineWidth:1}, silent:true},
    {type:'text', x:580, y:22, style:{text:'Pathways NES from GSEA', align:'center', verticalAlign:'middle', fontSize:9, fontFamily:SERIF, fill:'#595959'}}
  ],
  series:[].concat(
    volcSeries(0, [kcCommon.concat(kcCommonDense),kcKcUp,kcKcDown.concat(kcKcDownDense),kcDetcUp,kcDetcDown], kcNS, kcGeneLabels),
    volcSeries(1, [detcCommon.concat(detcCommonDense),detcKcUp,detcKcDown,detcDetcUp,detcDetcDown], detcNS, detcGeneLabels),
    [
      {type:'line', xAxisIndex:2, yAxisIndex:2, data:kcHistLC, showSymbol:false, lineStyle:{color:'#8ae04e', width:1}, silent:true},
      {type:'line', xAxisIndex:2, yAxisIndex:2, data:kcHistWT, showSymbol:false, lineStyle:{color:'#c62828', width:1}, silent:true},
      {type:'line', xAxisIndex:3, yAxisIndex:3, data:detcHistLC, showSymbol:false, lineStyle:{color:'#8ae04e', width:1}, silent:true},
      {type:'line', xAxisIndex:3, yAxisIndex:3, data:detcHistWT, showSymbol:false, lineStyle:{color:'#c62828', width:1}, silent:true}
    ],
    dotSeries(4, mhcWT, mhcLC, sigLabels[0]),
    dotSeries(5, il17WT, il17LC, sigLabels[1]),
    vennSeries(6, vUp),
    vennSeries(7, vDown),
    [
      {type:'bar', name:'DETC', xAxisIndex:9, yAxisIndex:9, data:detcNES, barWidth:2.7, barGap:'0%', itemStyle:{color:'#d9777a'}},
      {type:'bar', name:'KC', xAxisIndex:9, yAxisIndex:9, data:kcNES, barWidth:2.7, barGap:'0%', itemStyle:{color:'#7b7bf2'}}
    ]
  )
};
const chart = echarts.init(document.getElementById('c'), null, {renderer:'canvas'});
chart.setOption(option);
</script></body></html>
